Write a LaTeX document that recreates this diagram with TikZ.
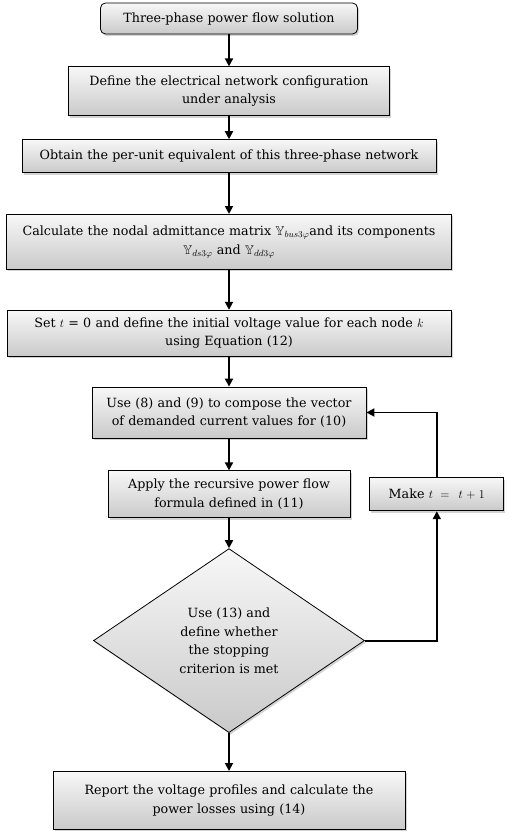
\documentclass[tikz,border=0pt]{standalone}
\usepackage{amsmath,amssymb}
\usepackage{fontspec}
\setmainfont{DejaVu Serif}
\usetikzlibrary{positioning,shapes.geometric,shadows,arrows.meta}

\tikzset{
  stepbox/.style={draw, line width=0.8pt, align=center,
    top color=gray!6, bottom color=gray!42,
    drop shadow={opacity=0.35, shadow xshift=1.5pt, shadow yshift=-2pt},
    inner xsep=4pt, inner ysep=2pt,
    font=\fontsize{12.7}{18.5}\selectfont},
  flow/.style={-{Triangle[length=8pt,width=8pt]}, line width=1.8pt}
}

\begin{document}
\begin{tikzpicture}[x=1pt, y=1pt]
	\useasboundingbox (0,0) rectangle (512,-832);

	% Draw the steps
	\node[stepbox, rounded corners=5pt, text width=249pt, minimum height=31pt] (start) at (229,-18.5) {Three-phase power flow solution};
	\node[stepbox, text width=313pt, minimum height=49pt, below=32pt of start] (config) {Define the electrical network configuration\\under analysis};
	\node[stepbox, text width=406pt, minimum height=33pt, below=23pt of config] (perunit) {Obtain the per-unit equivalent of this three-phase network};
	\node[stepbox, text width=437pt, minimum height=55pt, below=41pt of perunit] (ybus) {Calculate the nodal admittance matrix $\mathbb{Y}_{bus3\varphi}$and its components\\$\mathbb{Y}_{ds3\varphi}$ and $\mathbb{Y}_{dd3\varphi}$};
	\node[stepbox, text width=436pt, minimum height=46pt, below=40pt of ybus] (init) {Set $t$ = 0 and define the initial voltage value for each node $k$\\using Equation (12)};
	\node[stepbox, text width=266pt, minimum height=51pt, below=30pt of init] (current) {Use (8) and (9) to compose the vector\\of demanded current values for (10)};
	\node[stepbox, text width=234pt, minimum height=47pt, below=32pt of current] (recursive) {Apply the recursive power flow\\formula defined in (11)};
	\node[stepbox, shape=diamond, minimum width=271pt, minimum height=184pt, inner sep=0pt, below=30pt of recursive] (check) {Use (13) and\\define whether\\the stopping\\criterion is met};
	\node[stepbox, text width=344pt, minimum height=58pt, below=38pt of check] (report) {Report the voltage profiles and calculate the\\power losses using (14)};
	\node[stepbox, text width=126pt, minimum height=33pt, right=19pt of recursive] (update) {Make $t\,=\,\,t+1$};

	% Connect the steps with arrows
	\draw[flow]
		(start) edge (config)
		(config) edge (perunit)
		(perunit) edge (ybus)
		(ybus) edge (init)
		(init) edge (current)
		(current) edge (recursive)
		(recursive) edge (check)
		(check) edge (report);
	\draw[flow] (check.east) -| (update.south);
	\draw[flow] (update.north) |- (current.east);
\end{tikzpicture}
\end{document}
